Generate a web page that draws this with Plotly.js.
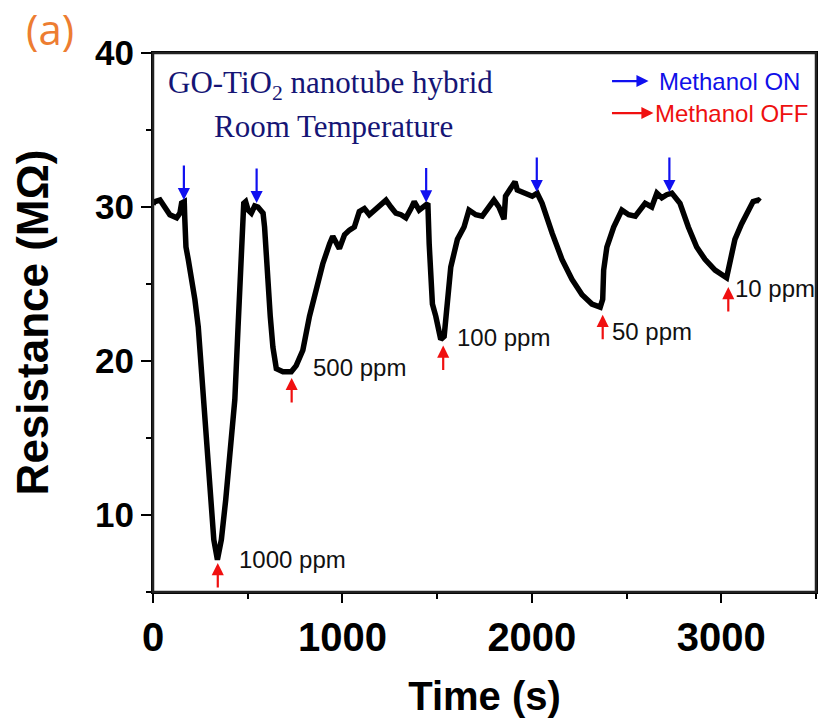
<!DOCTYPE html>
<html>
<head>
<meta charset="utf-8">
<script src="https://cdn.plot.ly/plotly-3.0.1.min.js"></script>
<style>html,body{margin:0;padding:0;background:#fff;}#chart{width:820px;height:718px;}</style>
</head>
<body>
<div id="chart"></div>
<script>
// Resistance response curve (time in s, resistance in MΩ)
const timeS = [0,10,37,63,89,125,142,151,165,168,174,186,203,221,239,256,265,283,304,321,340,361,384,405,432,449,467,479,489,502,519,537,554,581,589,598,607,619,633,651,686,730,756,791,826,862,896,932,949,984,1011,1037,1063,1089,1116,1142,1168,1195,1230,1256,1282,1309,1335,1362,1379,1405,1432,1451,1458,1467,1475,1493,1519,1537,1554,1572,1607,1642,1668,1704,1738,1774,1800,1826,1853,1861,1888,1911,1923,1958,2002,2028,2054,2107,2159,2212,2265,2317,2361,2374,2379,2396,2432,2475,2511,2546,2598,2633,2660,2686,2712,2739,2782,2826,2870,2914,2967,3028,3037,3046,3072,3107,3142,3168,3195,3204];
const resistance = [30.2,30.35,30.45,29.9,29.5,29.3,29.6,30.26,30.35,29.2,27.4,26.6,25.5,24.0,22.2,19.2,17.5,14.2,11.0,8.4,7.1,8.4,11.0,14.2,17.5,22.2,26.6,30.24,30.35,29.8,29.6,30.07,30.0,29.6,28.7,26.6,24.4,22.9,20.9,19.5,19.3,19.3,19.7,20.7,22.9,24.8,26.3,27.6,28.1,27.3,28.2,28.5,28.7,29.7,29.9,29.5,29.8,30.0,30.45,30.0,29.6,29.5,29.3,29.9,30.35,29.8,30.0,30.24,27.6,24.8,23.7,22.9,21.4,21.6,24.0,26.1,27.9,28.7,29.8,29.5,29.4,30.0,30.45,30.0,29.2,30.7,31.3,31.64,31.1,30.9,30.7,30.9,30.24,28.3,26.6,25.3,24.3,23.7,23.5,24.0,25.9,27.4,28.7,29.8,29.5,29.4,30.24,30.0,30.9,30.6,30.8,30.9,30.24,28.7,27.4,26.6,25.9,25.4,25.9,26.8,27.9,28.9,29.8,30.35,30.45,30.35];

// Methanol ON (blue, pointing down) and OFF (red, pointing up) markers
const onTime = [163,547,1442,2026,2726];
const onRes = [30.45,30.26,30.3,30.97,30.97];
const offTime = [342,732,1532,2374,3037];
const offRes = [6.88,18.9,21.0,23.0,24.8];

// Concentration labels
const concLabels = ["1000 ppm","500 ppm","100 ppm","50 ppm","10 ppm"];
const concX = [442,832,1595,2411,3063];
const concY = [7.08,19.55,21.5,21.9,24.7];

const xTicks = [0,1000,2000,3000];
const yTicks = [10,20,30,40];

const annotations = [];
for (let i = 0; i < onTime.length; i++) {
  annotations.push({x: onTime[i], y: onRes[i], xref:'x', yref:'y', text:'', showarrow:true,
    ax:0, ay:-36, arrowcolor:'#1010f0', arrowwidth:2.2, arrowhead:2, arrowsize:1.1, standoff:0});
}
for (let i = 0; i < offTime.length; i++) {
  annotations.push({x: offTime[i], y: offRes[i], xref:'x', yref:'y', text:'', showarrow:true,
    ax:0, ay:26, arrowcolor:'#f01010', arrowwidth:2.2, arrowhead:2, arrowsize:1.1, standoff:0});
}
for (let i = 0; i < concLabels.length; i++) {
  annotations.push({x: concX[i], y: concY[i], xref:'x', yref:'y', text: concLabels[i], showarrow:false,
    xanchor:'left', yanchor:'middle', font:{family:'Liberation Sans, Arial, sans-serif', size:24, color:'#111'}});
}
// Legend arrows & text
annotations.push({x:2616, y:38.18, xref:'x', yref:'y', text:'', showarrow:true, ax:-38, ay:0,
  arrowcolor:'#1010f0', arrowwidth:2.2, arrowhead:2, arrowsize:1.1, standoff:0});
annotations.push({x:2658, y:38.18, xref:'x', yref:'y', text:'Methanol ON', showarrow:false, xanchor:'left', yanchor:'middle',
  font:{family:'Liberation Sans, Arial, sans-serif', size:24, color:'#1010e8'}});
annotations.push({x:2642, y:36.1, xref:'x', yref:'y', text:'', showarrow:true, ax:-43, ay:0,
  arrowcolor:'#f01010', arrowwidth:2.2, arrowhead:2, arrowsize:1.1, standoff:0});
annotations.push({x:2642, y:36.1, xref:'x', yref:'y', text:'Methanol OFF', showarrow:false, xanchor:'left', yanchor:'middle',
  font:{family:'Liberation Sans, Arial, sans-serif', size:24, color:'#ee1010'}});
// Sample description
annotations.push({x:70, y:37.9, xref:'x', yref:'y', text:'GO-TiO<sub>2</sub> nanotube hybrid', showarrow:false,
  xanchor:'left', yanchor:'middle', font:{family:'Liberation Serif, Times New Roman, serif', size:31, color:'#151575'}});
annotations.push({x:310, y:35.25, xref:'x', yref:'y', text:'Room Temperature', showarrow:false,
  xanchor:'left', yanchor:'middle', font:{family:'Liberation Serif, Times New Roman, serif', size:31, color:'#151575'}});
// Panel label
annotations.push({x:-0.195, y:1.045, xref:'paper', yref:'paper', text:'(a)', showarrow:false,
  xanchor:'left', yanchor:'middle', font:{family:'Open Sans, Noto Sans, sans-serif', size:42, color:'#ED7D31'}});

const trace = {x: timeS, y: resistance, type:'scatter', mode:'lines',
  line:{color:'#000', width:5.5, shape:'linear'}, hoverinfo:'skip'};

const layout = {
  width:820, height:718,
  margin:{l:153, r:4, t:53, b:126},
  paper_bgcolor:'#fff', plot_bgcolor:'#fff',
  showlegend:false,
  shapes:[
    {type:'rect', xref:'paper', yref:'paper', x0:0, x1:1, y0:0, y1:1, layer:'above', line:{color:'#222', width:2.5}}
  ],
  xaxis:{range:[0,3500], tickvals:xTicks, ticktext:xTicks.map(String), ticks:'outside', ticklen:9, tickwidth:2,
    tickcolor:'#000', showline:true, linecolor:'#000', linewidth:2, mirror:true, showgrid:false, zeroline:false,
    minor:{dtick:500, ticks:'outside', ticklen:5, tickwidth:2, tickcolor:'#000', showgrid:false},
    tickfont:{family:'Liberation Sans, Arial, sans-serif', size:40, color:'#000', weight:'bold'},
    title:{text:'Time (s)', standoff:24, font:{family:'Liberation Sans, Arial, sans-serif', size:40, color:'#000', weight:'bold'}}},
  yaxis:{range:[5,40], tickvals:yTicks, ticktext:yTicks.map(String), ticks:'outside', ticklen:10, tickwidth:2,
    tickcolor:'#000', showline:true, linecolor:'#000', linewidth:2, mirror:true, showgrid:false, zeroline:false,
    minor:{dtick:5, ticks:'outside', ticklen:5, tickwidth:2, tickcolor:'#000', showgrid:false},
    tickfont:{family:'Liberation Sans, Arial, sans-serif', size:35, color:'#000', weight:'bold'},
    title:{text:'Resistance (MΩ)', standoff:33, font:{family:'Liberation Sans, Arial, sans-serif', size:44, color:'#000', weight:'bold'}}},
  annotations: annotations
};

Plotly.newPlot('chart', [trace], layout, {displayModeBar:false, staticPlot:true});
</script>
</body>
</html>
